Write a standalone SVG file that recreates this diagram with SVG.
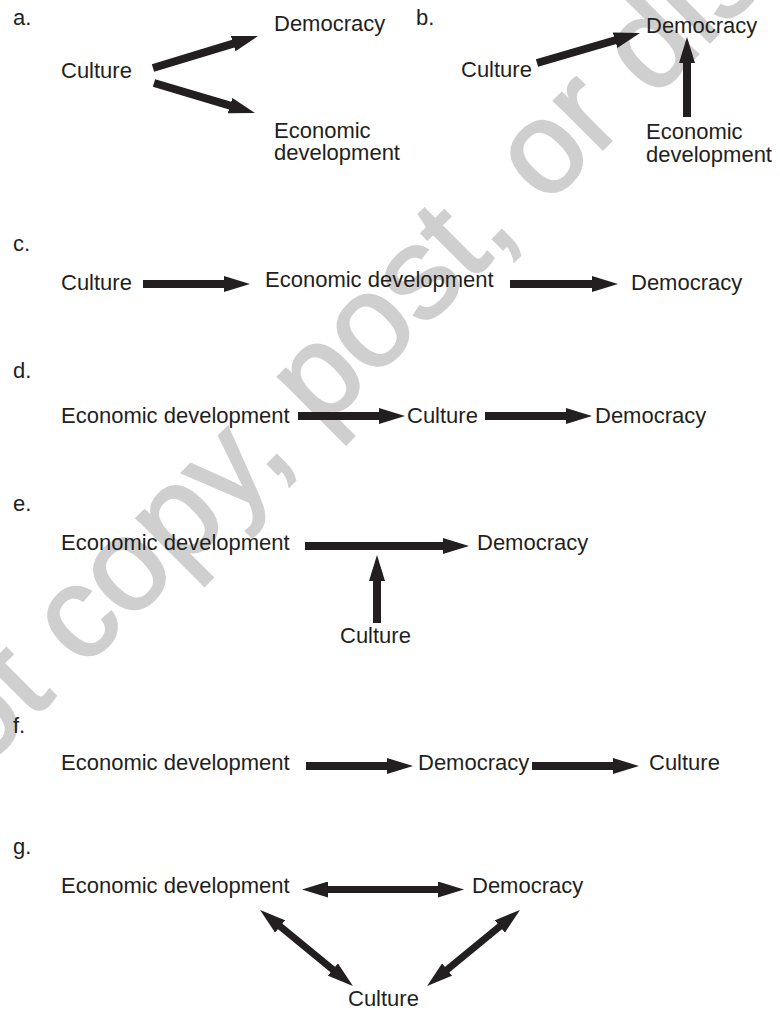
<svg xmlns="http://www.w3.org/2000/svg" width="780" height="1014" viewBox="0 0 780 1014">
<defs>
<style>
text{font-family:"Liberation Sans",Arial,sans-serif;font-size:22px;fill:#231f20}
.wm{font-size:130px;fill:#cfcfcf;stroke:#cfcfcf;stroke-width:2.5}
.c line{stroke:#231f20;stroke-width:8;marker-end:url(#ah)}
.c line.dbl{marker-start:url(#ah2);marker-end:url(#ah2);stroke-width:7}
</style>
<marker id="ah" markerUnits="userSpaceOnUse" viewBox="0 0 26 16" markerWidth="26" markerHeight="16" refX="1" refY="8" orient="auto"><path d="M0,0L26,8L0,16z" fill="#231f20"/></marker>
<marker id="ah2" markerUnits="userSpaceOnUse" viewBox="0 0 26 16" markerWidth="26" markerHeight="16" refX="1" refY="8" orient="auto-start-reverse"><path d="M0,0L26,8L0,16z" fill="#231f20"/></marker>
</defs>
<rect width="780" height="1014" fill="#fff"/>
<text class="wm" transform="translate(-20,772) rotate(-45)">ot copy, post, or dis</text>

<g id="labels">
<text x="13" y="25">a.</text>
<text x="416" y="25">b.</text>
<text x="13" y="251">c.</text>
<text x="13" y="378">d.</text>
<text x="13" y="511">e.</text>
<text x="13" y="733">f.</text>
<text x="13" y="854">g.</text>
</g>

<g id="a-culture"><text x="61" y="78">Culture</text></g>
<g id="a-democracy"><text x="274" y="31">Democracy</text></g>
<g id="a-econ"><text x="274" y="138">Economic</text><text x="274" y="160">development</text></g>

<g id="b-culture"><text x="461" y="77">Culture</text></g>
<g id="b-democracy"><text x="646" y="33">Democracy</text></g>
<g id="b-econ"><text x="646" y="139">Economic</text><text x="646" y="162">development</text></g>

<g id="c-culture"><text x="61" y="290">Culture</text></g>
<g id="c-econ"><text x="265" y="287">Economic development</text></g>
<g id="c-democracy"><text x="631" y="290">Democracy</text></g>

<g id="d-econ"><text x="61" y="423">Economic development</text></g>
<g id="d-culture"><text x="407" y="423">Culture</text></g>
<g id="d-democracy"><text x="595" y="423">Democracy</text></g>

<g id="e-econ"><text x="61" y="550">Economic development</text></g>
<g id="e-democracy"><text x="477" y="550">Democracy</text></g>
<g id="e-culture"><text x="340" y="643">Culture</text></g>

<g id="f-econ"><text x="61" y="770">Economic development</text></g>
<g id="f-democracy"><text x="418" y="770">Democracy</text></g>
<g id="f-culture"><text x="649" y="770">Culture</text></g>

<g id="g-econ"><text x="61" y="893">Economic development</text></g>
<g id="g-democracy"><text x="472" y="893">Democracy</text></g>
<g id="g-culture"><text x="348" y="1006">Culture</text></g>

<g id="connectors" class="c">
<line x1="153" y1="68" x2="234.1" y2="43.3"/>
<line x1="154" y1="83" x2="231" y2="105.9"/>
<line x1="537" y1="63" x2="616" y2="40"/>
<line x1="687" y1="117" x2="687" y2="62"/>
<line x1="143" y1="284" x2="225" y2="284"/>
<line x1="510" y1="284" x2="593" y2="284"/>
<line x1="298" y1="416" x2="380" y2="416"/>
<line x1="485" y1="416" x2="567" y2="416"/>
<line x1="305" y1="546" x2="444" y2="546"/>
<line x1="377" y1="623" x2="377" y2="580"/>
<line x1="306" y1="766" x2="388" y2="766"/>
<line x1="532" y1="766" x2="614" y2="766"/>
<line class="dbl" x1="327" y1="889.5" x2="439" y2="889.5"/>
<line class="dbl" x1="279.4" y1="925.8" x2="333.6" y2="970.2"/>
<line class="dbl" x1="500.6" y1="925.8" x2="446.4" y2="970.2"/>
</g>
</svg>
